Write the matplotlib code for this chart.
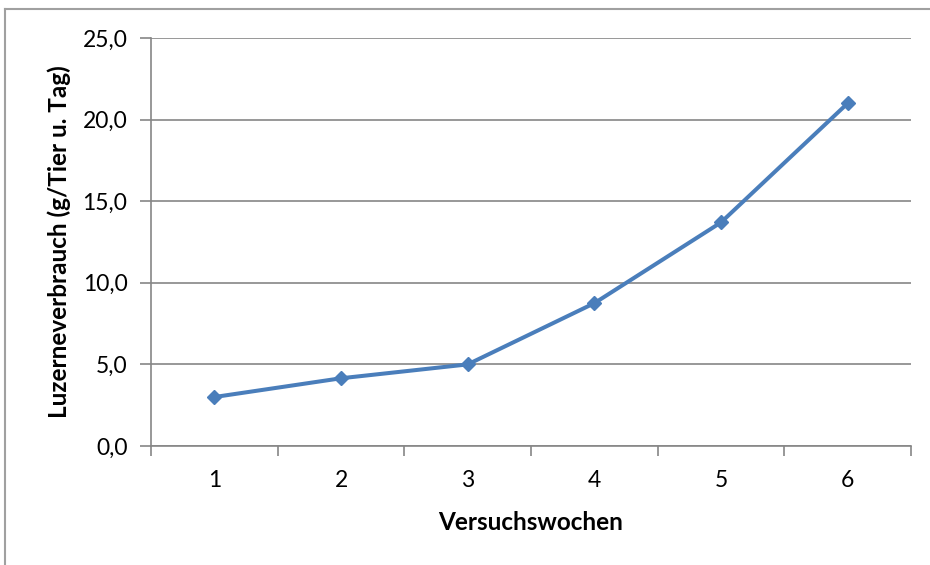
import matplotlib
matplotlib.use("Agg")
import matplotlib.pyplot as plt
from matplotlib.lines import Line2D
from matplotlib.ticker import FixedLocator, FuncFormatter

wochen = [1, 2, 3, 4, 5, 6]
verbrauch = [3.0, 4.15, 5.0, 8.75, 13.7, 21.0]
y_ticks = [0, 5, 10, 15, 20, 25]

plt.rcParams['font.family'] = ['Lato', 'DejaVu Sans']
grau = '#868686'

fig = plt.figure(figsize=(9.3, 5.65), dpi=100)
ax = fig.add_axes([151/930, 1-446/565, 760/930, 408/565])

ax.plot(wochen, verbrauch, color='#4A7EBB', lw=2.9, marker='D', ms=7,
        solid_joinstyle='round', zorder=3)

ax.set_xlim(0.5, 6.5)
ax.set_ylim(0, 25)
ax.set_yticks(y_ticks)
ax.yaxis.set_major_formatter(FuncFormatter(lambda v, p: f"{v:.1f}".replace('.', ',')))
ax.grid(axis='y', color=grau, lw=1.2)
ax.set_axisbelow(True)

# Kategorien-Achse: Striche zwischen den Kategorien
ax.xaxis.set_major_locator(FixedLocator([w - 0.5 for w in wochen] + [6.5]))
ax.xaxis.set_minor_locator(FixedLocator(wochen))
ax.xaxis.set_major_formatter(FuncFormatter(lambda v, p: ''))
ax.xaxis.set_minor_formatter(FuncFormatter(lambda v, p: f"{int(v)}"))
ax.tick_params(axis='x', which='major', length=7, color=grau, width=1.2)
ax.tick_params(axis='x', which='minor', length=0, pad=17, labelsize=16.5)
ax.tick_params(axis='y', length=8, color=grau, width=1.2, labelsize=16.5, pad=9)

for s in ['top', 'right']:
    ax.spines[s].set_visible(False)
for s in ['left', 'bottom']:
    ax.spines[s].set_color(grau)
    ax.spines[s].set_linewidth(1.2)

ax.set_xlabel('Versuchswochen', fontsize=17.5, fontweight='bold', labelpad=15)
ax.set_ylabel('Luzerneverbrauch (g/Tier u. Tag)', fontsize=17.5, fontweight='bold', labelpad=8)

# Rahmen des Diagrammbereichs
fig.add_artist(Line2D([4.5/930, 4.5/930], [0, 1-9/565], color='#A0A0A0', lw=1.5))
fig.add_artist(Line2D([4.5/930, 1], [1-9/565, 1-9/565], color='#A0A0A0', lw=1.5))

fig.savefig('out.png', dpi=100)
